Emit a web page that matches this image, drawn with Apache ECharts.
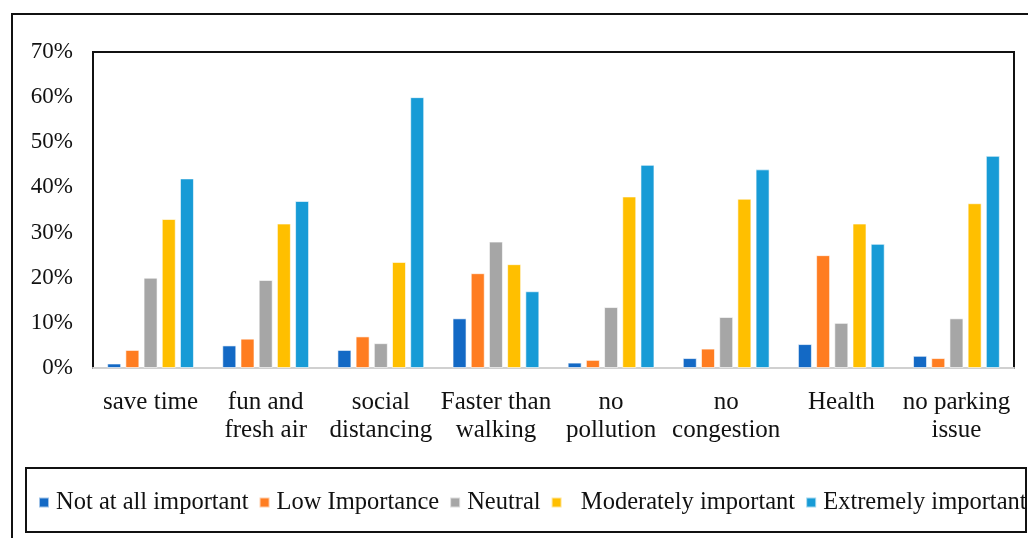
<!DOCTYPE html>
<html>
<head>
<meta charset="utf-8">
<script src="https://cdn.jsdelivr.net/npm/echarts@6/dist/echarts.min.js"></script>
<style>
  html, body { margin: 0; padding: 0; background: #fff; }
  #chart { width: 1028px; height: 538px; }
</style>
</head>
<body>
<div id="chart"></div>
<script>
// Reasons for choosing to ride, share of respondents per importance level
const categories = [
  'save time', 'fun and\nfresh air', 'social\ndistancing', 'Faster than\nwalking',
  'no\npollution', 'no\ncongestion', 'Health', 'no parking\nissue'
];
const seriesNames = [
  'Not at all important', 'Low Importance', 'Neutral',
  'Moderately important', 'Extremely important'
];
const notAtAllImportant   = [0.010, 0.050, 0.040, 0.110, 0.012, 0.022, 0.053, 0.027];
const lowImportance       = [0.040, 0.065, 0.070, 0.210, 0.018, 0.043, 0.250, 0.022];
const neutral             = [0.200, 0.195, 0.055, 0.280, 0.135, 0.113, 0.100, 0.110];
const moderatelyImportant = [0.330, 0.320, 0.235, 0.230, 0.380, 0.375, 0.320, 0.365];
const extremelyImportant  = [0.420, 0.370, 0.600, 0.170, 0.450, 0.440, 0.275, 0.470];
const yTicks = [0, 0.1, 0.2, 0.3, 0.4, 0.5, 0.6, 0.7];

const colors = ['#1369c5', '#ff7d21', '#a6a6a6', '#ffbf00', '#179bd6'];
const values = [notAtAllImportant, lowImportance, neutral, moderatelyImportant, extremelyImportant];
const font = '"Liberation Serif", "Times New Roman", serif';

const chart = echarts.init(document.getElementById('chart'), null, { renderer: 'canvas' });

chart.setOption({
  animation: false,
  backgroundColor: '#fff',
  color: colors,
  graphic: [
    // outer frame
    { type: 'rect', shape: { x: 12, y: 14, width: 1040, height: 560 },
      style: { fill: 'none', stroke: '#111', lineWidth: 2 }, silent: true, z: -1 },
    // legend frame
    { type: 'rect', shape: { x: 26, y: 468, width: 1000, height: 64 },
      style: { fill: 'none', stroke: '#111', lineWidth: 2 }, silent: true, z: -1 }
  ],
  grid: {
    left: 93, right: 14, top: 52, bottom: 170,
    show: true, borderColor: '#111', borderWidth: 2, backgroundColor: '#fff'
  },
  legend: {
    data: seriesNames,
    left: 33, top: 485, width: 1100,
    itemWidth: 10, itemHeight: 10, itemGap: 10,
    icon: 'rect',
    textStyle: { fontFamily: font, fontSize: 24.5, color: '#111', padding: [0, 0, 0, 2] },
    formatter: function (n) { return n === 'Moderately important' ? '  ' + n : n; }
  },
  xAxis: {
    type: 'category',
    data: categories,
    axisLine: { show: true, lineStyle: { color: '#d0d0d0', width: 2 } },
    axisTick: { show: false },
    axisLabel: {
      interval: 0, margin: 20,
      fontFamily: font, fontSize: 25, color: '#111', lineHeight: 28
    }
  },
  yAxis: {
    type: 'value',
    min: 0, max: 0.7, interval: 0.1,
    axisLine: { show: false },
    axisTick: { show: false },
    splitLine: { show: false },
    axisLabel: {
      margin: 20,
      fontFamily: font, fontSize: 23, color: '#111',
      formatter: function (v) {
        const t = yTicks.find(function (k) { return Math.abs(k - v) < 1e-9; });
        return Math.round((t === undefined ? v : t) * 100) + '%';
      }
    }
  },
  series: seriesNames.map(function (name, i) {
    return {
      name: name,
      type: 'bar',
      data: values[i],
      barWidth: 14,
      barGap: '30%',
      itemStyle: { color: colors[i], borderColor: 'rgba(255,255,255,0.6)', borderWidth: 1 }
    };
  })
});
</script>
</body>
</html>
